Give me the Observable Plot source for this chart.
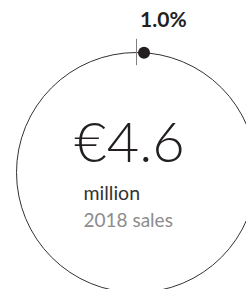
<!DOCTYPE html>
<html>
<head>
<meta charset="utf-8">
<script src="https://cdn.jsdelivr.net/npm/d3@7"></script>
<script src="https://cdn.jsdelivr.net/npm/@observablehq/plot@0.6"></script>
<style>
  html, body { margin: 0; padding: 0; background: #fff; }
  #chart svg { display: block; }
</style>
</head>
<body>
<div id="chart"></div>
<script>
// Data
const shares = [1.0];             // percent share shown on the ring
const shareLabels = ["1.0%"];
const values = ["€4.6"];          // headline value
const units = ["million"];
const captions = ["2018 sales"];

const W = 246, H = 289;
const R = 120;               // ring radius in px
const cx = 136, cy = 172;    // ring centre in px

// unit-circle coordinate system: 1 unit = R px
const xDomain = [-cx / R, (W - cx) / R];
const yDomain = [-(H - cy) / R, cy / R];

const ringData = [{x: 0, y: 0}];
const markerData = shares.map((s, i) => {
  const a = (s / 100) * 2 * Math.PI;
  return {x: Math.sin(a), y: Math.cos(a), label: shareLabels[i]};
});
const centerData = values.map((v, i) => ({x: 0, y: 0, value: v, unit: units[i], caption: captions[i]}));

const chart = Plot.plot({
  width: W,
  height: H,
  margin: 0,
  x: {domain: xDomain, axis: null},
  y: {domain: yDomain, axis: null},
  style: {fontFamily: "Lato, 'Open Sans', sans-serif", background: "#fff"},
  marks: [
    Plot.dot(ringData, {x: "x", y: "y", r: R, stroke: "#333", strokeWidth: 1, fill: "none"}),
    Plot.ruleX([0], {y1: 1 - 0.11, y2: 1 + 0.11, stroke: "#808080", strokeWidth: 1}),
    Plot.dot(markerData, {x: "x", y: "y", r: 6, fill: "#231f20", stroke: "none"}),
    Plot.text(markerData, {x: "x", y: "y", text: "label", textAnchor: "start", dx: -4, dy: -32,
      fontSize: 21, fontWeight: "bold", fill: "#231f20"}),
    Plot.text(centerData, {x: "x", y: "y", text: "value", textAnchor: "middle", lineAnchor: "bottom", dx: -7, dy: -11,
      fontSize: 56, fontWeight: 300, fill: "#231f20"}),
    Plot.text(centerData, {x: "x", y: "y", text: "unit", textAnchor: "start", lineAnchor: "bottom", dx: -53, dy: 27,
      fontSize: 19.5, fill: "#333"}),
    Plot.text(centerData, {x: "x", y: "y", text: "caption", textAnchor: "start", lineAnchor: "bottom", dx: -53, dy: 54,
      fontSize: 19, fill: "#8c8c8c"})
  ]
});
document.getElementById("chart").appendChild(chart);
</script>
</body>
</html>
